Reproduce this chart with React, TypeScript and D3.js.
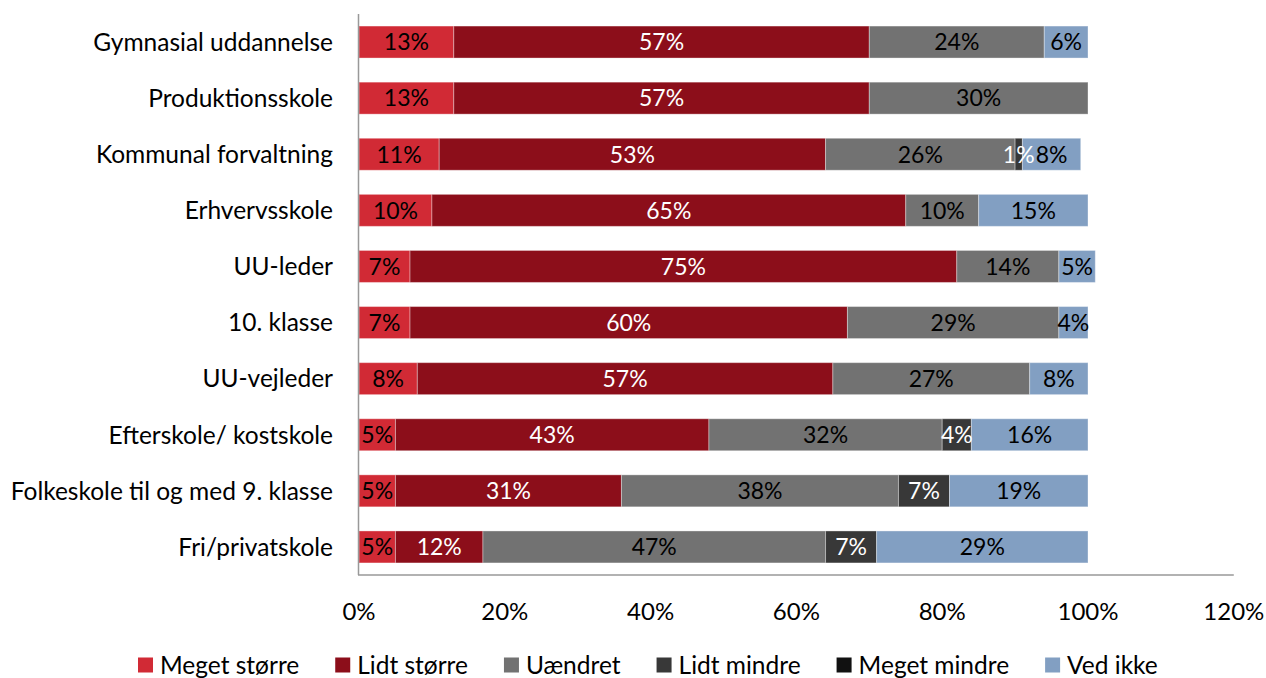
import React, { useEffect, useRef } from "react";
import * as d3 from "d3";

const categories = [
  "Gymnasial uddannelse",
  "Produktionsskole",
  "Kommunal forvaltning",
  "Erhvervsskole",
  "UU-leder",
  "10. klasse",
  "UU-vejleder",
  "Efterskole/ kostskole",
  "Folkeskole til og med 9. klasse",
  "Fri/privatskole",
];

const seriesNames = ["Meget større", "Lidt større", "Uændret", "Lidt mindre", "Meget mindre", "Ved ikke"];

const megetStorre = [13, 13, 11, 10, 7, 7, 8, 5, 5, 5];
const lidtStorre = [57, 57, 53, 65, 75, 60, 57, 43, 31, 12];
const uaendret = [24, 30, 26, 10, 14, 29, 27, 32, 38, 47];
const lidtMindre = [0, 0, 1, 0, 0, 0, 0, 4, 7, 7];
const megetMindre = [0, 0, 0, 0, 0, 0, 0, 0, 0, 0];
const vedIkke = [6, 0, 8, 15, 5, 4, 8, 16, 19, 29];

const xTicks = [0, 20, 40, 60, 80, 100, 120];

const seriesColors = ["#D12A35", "#8C0E1A", "#727272", "#383838", "#111111", "#829FC2"];
const labelColors = ["#000", "#fff", "#000", "#fff", "#fff", "#000"];

const W = 1266;
const H = 678;
const FONT = "Lato, 'Open Sans', sans-serif";

export default function App() {
  const ref = useRef<SVGSVGElement>(null);

  useEffect(() => {
    const svg = d3.select(ref.current);
    svg.selectAll("*").remove();

    const left = 359;
    const top = 14;
    const bottom = 575;
    const x = d3.scaleLinear().domain([0, 120]).range([left, left + 729 * 1.2]);
    const y = d3.scaleBand().domain(categories).range([top, bottom]).paddingInner(0.43).paddingOuter(0.215);

    const allSeries = [megetStorre, lidtStorre, uaendret, lidtMindre, megetMindre, vedIkke];
    const rows = categories.map((c, i) => {
      const r: any = { cat: c };
      seriesNames.forEach((s, j) => (r[s] = allSeries[j][i]));
      return r;
    });
    const stack = d3.stack<any>().keys(seriesNames)(rows);

    const g = svg.append("g");

    stack.forEach((layer, si) => {
      layer.forEach((d: any) => {
        const v = d[1] - d[0];
        if (v <= 0) return;
        g.append("rect")
          .attr("x", x(d[0]))
          .attr("y", y(d.data.cat)!)
          .attr("width", x(d[1]) - x(d[0]))
          .attr("height", y.bandwidth())
          .attr("fill", seriesColors[si])
          .attr("stroke", "rgba(255,255,255,0.35)")
          .attr("stroke-width", 1);
      });
    });
    stack.forEach((layer, si) => {
      layer.forEach((d: any) => {
        const v = d[1] - d[0];
        if (v <= 0) return;
        g.append("text")
          .attr("x", (x(d[0]) + x(d[1])) / 2)
          .attr("y", y(d.data.cat)! + y.bandwidth() / 2)
          .attr("dy", "0.36em")
          .attr("text-anchor", "middle")
          .attr("font-family", FONT)
          .attr("font-size", 23)
          .attr("fill", labelColors[si])
          .text(`${v}%`);
      });
    });

    // axes lines
    g.append("line")
      .attr("x1", left - 0.5).attr("x2", left - 0.5)
      .attr("y1", top).attr("y2", bottom)
      .attr("stroke", "#999").attr("stroke-width", 1.5);
    g.append("line")
      .attr("x1", left - 1).attr("x2", x(120))
      .attr("y1", bottom).attr("y2", bottom)
      .attr("stroke", "#999").attr("stroke-width", 1.5);

    // category labels
    categories.forEach((c) => {
      g.append("text")
        .attr("x", 333)
        .attr("y", y(c)! + y.bandwidth() / 2)
        .attr("dy", "0.36em")
        .attr("text-anchor", "end")
        .attr("font-family", FONT)
        .attr("font-size", 24.5)
        .attr("fill", "#000")
        .text(c);
    });

    // x tick labels
    xTicks.forEach((t) => {
      g.append("text")
        .attr("x", x(t))
        .attr("y", 611)
        .attr("dy", "0.36em")
        .attr("text-anchor", "middle")
        .attr("font-family", FONT)
        .attr("font-size", 24)
        .attr("fill", "#000")
        .text(`${t}%`);
    });

    // legend
    const lg = g.append("g");
    let cx = 0;
    const gap = 36;
    seriesNames.forEach((s, i) => {
      const it = lg.append("g").attr("transform", `translate(${cx},0)`);
      it.append("rect").attr("x", 0).attr("y", -7.5).attr("width", 15).attr("height", 15).attr("fill", seriesColors[i]);
      const t = it.append("text")
        .attr("x", 22)
        .attr("y", 0)
        .attr("dy", "0.36em")
        .attr("font-family", FONT)
        .attr("font-size", 24.5)
        .attr("fill", "#000")
        .text(s);
      const w = (t.node() as SVGTextElement).getComputedTextLength();
      cx += 22 + w + gap;
    });
    lg.attr("transform", `translate(138,665)`);
  }, []);

  return (
    <div>
      <svg ref={ref} width={W} height={H} style={{ position: "absolute", left: 0, top: 0, background: "#fff" }} />
    </div>
  );
}
